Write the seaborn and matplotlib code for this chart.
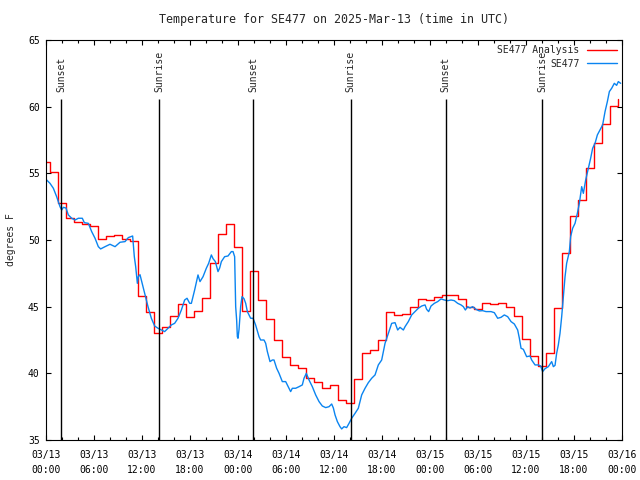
import pandas as pd
import seaborn as sns
import matplotlib
matplotlib.use("Agg")
import matplotlib.pyplot as plt
import matplotlib.dates as mdates
from matplotlib.ticker import MultipleLocator

BASE = pd.Timestamp("2025-03-13 00:00")

# hourly analysis values, steps start 2025-03-12 23:33
red_temps = [55.83, 55.08, 52.75, 51.63, 51.33, 51.2, 51.07, 50.05, 50.3, 50.35,
             50.07, 49.92, 45.8, 44.58, 43.0, 43.45, 44.28, 45.18, 44.2, 44.67,
             45.63, 48.25, 50.43, 51.18, 49.5, 44.67, 47.65, 45.5, 44.08, 42.48,
             41.23, 40.6, 40.38, 39.63, 39.35, 38.88, 39.13, 38.0, 37.78, 39.58,
             41.53, 41.73, 42.48, 44.58, 44.4, 44.45, 44.95, 45.55, 45.5, 45.7,
             45.85, 45.85, 45.58, 44.95, 44.8, 45.25, 45.2, 45.25, 44.95, 44.3,
             42.58, 41.3, 40.55, 41.5, 44.88, 49.0, 51.8, 53.0, 55.38, 57.25,
             58.7, 60.05, 60.55]

# station observations: hours after 03/13 00:00 UTC and temperature
blue_hours = [0.08, 0.5, 0.92, 1.33, 1.75, 1.96, 2.17, 2.5, 2.79, 3.21,
              3.63, 4.04, 4.54, 4.79, 5.29, 5.71, 6.13, 6.54, 6.83, 7.38,
              8.0, 8.63, 9.25, 9.88, 10.29, 10.83, 11.04, 11.21, 11.42, 11.54,
              11.75, 11.96, 12.33, 12.75, 13.17, 13.58, 14.0, 14.42, 14.83, 15.25,
              15.67, 16.08, 16.5, 16.92, 17.33, 17.63, 17.96, 18.17, 18.58, 19.0,
              19.25, 19.63, 20.04, 20.33, 20.67, 20.88, 21.17, 21.5, 21.71, 21.92,
              22.33, 22.75, 23.17, 23.38, 23.58, 23.71, 23.83, 23.92, 24.0, 24.13,
              24.33, 24.5, 24.75, 24.96, 25.17, 25.38, 25.58, 25.88, 26.2, 26.63,
              26.83, 27.25, 27.46, 27.67, 28.0, 28.29, 28.5, 28.83, 29.13, 29.54,
              29.96, 30.17, 30.58, 30.79, 31.21, 31.63, 32.04, 32.25, 32.54, 32.88,
              33.29, 33.71, 34.13, 34.54, 34.96, 35.38, 35.71, 35.92, 36.13, 36.42,
              36.75, 36.96, 37.25, 37.58, 37.88, 38.21, 38.63, 39.04, 39.46, 39.88,
              40.29, 40.71, 41.13, 41.54, 41.96, 42.17, 42.38, 42.79, 43.21, 43.63,
              43.96, 44.25, 44.67, 44.88, 45.29, 45.71, 46.13, 46.54, 46.96, 47.38,
              47.58, 47.83, 48.13, 48.54, 48.96, 49.38, 49.79, 50.21, 50.63, 51.04,
              51.46, 51.88, 52.17, 52.42, 52.71, 53.0, 53.33, 53.75, 54.17, 54.58,
              55.0, 55.63, 56.04, 56.46, 56.88, 57.29, 57.71, 58.13, 58.54, 58.96,
              59.17, 59.38, 59.67, 60.08, 60.5, 60.71, 61.13, 61.54, 61.83, 62.08,
              62.38, 62.79, 63.21, 63.42, 63.63, 63.83, 64.04, 64.25, 64.46, 64.67,
              64.88, 65.08, 65.42, 65.58, 65.83, 66.13, 66.42, 66.67, 66.96, 67.17,
              67.46, 67.79, 68.08, 68.33, 68.63, 68.92, 69.25, 69.58, 69.88, 70.17,
              70.42, 70.71, 71.04, 71.33, 71.54, 71.83]
blue_temps = [54.5, 54.25, 53.88, 53.25, 52.5, 52.25, 52.45, 52.4, 51.88, 51.63,
              51.5, 51.63, 51.63, 51.3, 51.25, 50.63, 50.13, 49.5, 49.33, 49.5,
              49.68, 49.5, 49.83, 49.88, 50.18, 50.3, 48.75, 48.0, 46.75, 47.25,
              47.4, 46.9, 46.0, 45.0, 44.13, 43.55, 43.38, 43.25, 43.13, 43.38,
              43.63, 43.75, 44.13, 44.75, 45.5, 45.63, 45.25, 45.25, 46.25, 47.38,
              46.88, 47.25, 47.88, 48.25, 48.88, 48.6, 48.38, 47.63, 47.9, 48.38,
              48.75, 48.8, 49.13, 49.13, 48.75, 45.0, 44.0, 42.75, 42.63, 43.3,
              45.0, 45.75, 45.6, 45.25, 44.63, 44.38, 44.13, 44.13, 43.63, 42.75,
              42.5, 42.5, 42.25, 41.63, 40.88, 41.0, 41.0, 40.38, 40.0, 39.38,
              39.38, 39.13, 38.63, 38.88, 38.88, 39.0, 39.13, 39.63, 40.0, 39.5,
              39.0, 38.38, 37.88, 37.55, 37.43, 37.5, 37.7, 37.4, 36.88, 36.38,
              36.0, 35.83, 36.0, 35.93, 36.25, 36.63, 37.0, 37.38, 38.38, 38.88,
              39.3, 39.63, 39.88, 40.63, 41.0, 41.63, 42.25, 43.0, 43.75, 43.8,
              43.25, 43.45, 43.25, 43.5, 43.88, 44.38, 44.63, 44.88, 45.05, 45.13,
              44.8, 44.63, 45.05, 45.25, 45.38, 45.58, 45.5, 45.45, 45.5, 45.45,
              45.25, 45.13, 45.0, 44.75, 45.0, 44.9, 45.0, 44.8, 44.68, 44.7,
              44.63, 44.63, 44.55, 44.13, 44.2, 44.38, 44.25, 43.88, 43.7, 43.25,
              42.63, 41.88, 41.8, 41.25, 41.3, 41.0, 40.63, 40.63, 40.55, 40.13,
              40.35, 40.5, 40.88, 40.5, 40.6, 41.5, 42.13, 43.0, 44.25, 45.75,
              47.25, 48.25, 49.13, 50.25, 50.88, 51.25, 52.0, 52.75, 54.0, 53.5,
              54.5, 55.38, 56.13, 56.88, 57.25, 57.88, 58.25, 58.63, 59.63, 60.38,
              61.13, 61.38, 61.75, 61.6, 61.88, 61.75]

event_hours = [1.9, 14.15, 25.9, 38.1, 49.95, 62.05]
event_labels = ["Sunset", "Sunrise", "Sunset", "Sunrise", "Sunset", "Sunrise"]


def main():
    sns.set_style("ticks")
    plt.rcParams['font.family'] = ['DejaVu Sans Mono']
    plt.rcParams['font.size'] = 7

    red = pd.DataFrame({
        "time": pd.date_range("2025-03-12 23:33", periods=len(red_temps), freq="h"),
        "temp": red_temps,
    })
    blue = pd.DataFrame({
        "time": BASE + pd.to_timedelta(blue_hours, unit="h"),
        "temp": blue_temps,
    })

    fig, ax = plt.subplots(figsize=(6.4, 4.8), dpi=100)
    fig.subplots_adjust(left=46 / 640, right=622 / 640, bottom=40 / 480, top=440 / 480)

    sns.lineplot(data=red, x="time", y="temp", color="#ff0000", lw=1.0,
                 drawstyle="steps-post", estimator=None, label="SE477 Analysis", ax=ax)
    sns.lineplot(data=blue, x="time", y="temp", color="#0a84f0", lw=1.0,
                 estimator=None, label="SE477", ax=ax)

    # sunrise / sunset markers
    ev_times = BASE + pd.to_timedelta(event_hours, unit="h")
    ax.vlines(ev_times, 35, 60.55, color="black", lw=1.0)
    for t, lab in zip(ev_times, event_labels):
        ax.text(t, 61.1, lab, rotation=90, ha="center", va="bottom")

    ax.set_xlim(BASE, BASE + pd.Timedelta(hours=72))
    ax.set_ylim(35, 65)
    ax.xaxis.set_major_locator(mdates.HourLocator(byhour=[0, 6, 12, 18]))
    ax.xaxis.set_minor_locator(mdates.HourLocator(byhour=range(0, 24, 2)))
    ax.xaxis.set_major_formatter(mdates.DateFormatter("%m/%d\n%H:%M"))
    ax.yaxis.set_major_locator(MultipleLocator(5))
    ax.tick_params(which="both", direction="in", top=True, right=True, width=0.8, colors="black")
    ax.tick_params(which="major", length=3.3)
    ax.tick_params(which="minor", length=2.2)
    ax.tick_params(axis="y", pad=4.5)
    ax.tick_params(axis="x", pad=7)
    for lbl in ax.get_xticklabels():
        lbl.set_linespacing(1.6)
    for s in ax.spines.values():
        s.set_linewidth(0.8)
        s.set_color("black")

    ax.set_xlabel("")
    ax.set_ylabel("degrees F")
    ax.yaxis.set_label_coords(-30 / 576, 0.5)
    ax.set_title("Temperature for SE477 on 2025-Mar-13 (time in UTC)", pad=12)

    ax.legend(loc="upper right", frameon=False, markerfirst=False, handlelength=3.0,
              handletextpad=0.8, labelspacing=0.35, borderaxespad=0.15)

    fig.savefig("out.png", dpi=100)


if __name__ == "__main__":
    main()
